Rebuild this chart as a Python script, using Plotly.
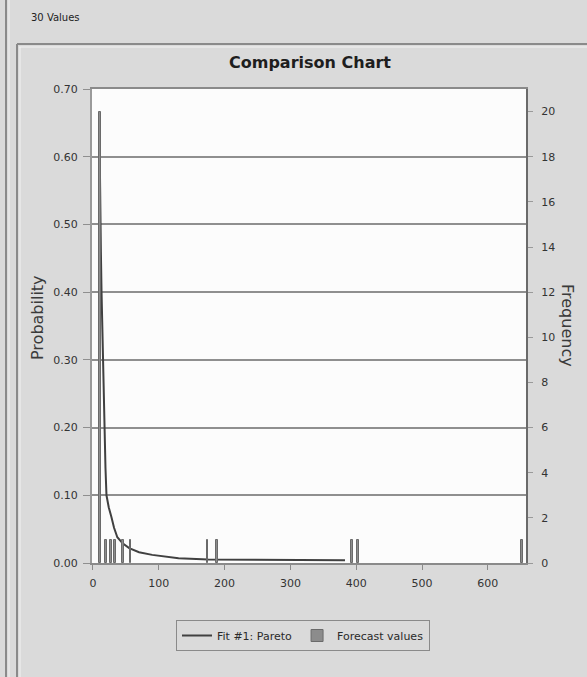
import plotly.graph_objects as go

# ---- data ----
curve_x = [9.5, 10, 11, 12, 13, 14.5, 16, 17.5, 19, 20.5, 24, 28, 32, 37, 45, 55, 70, 90, 130, 175, 250, 383]
curve_y = [0.665, 0.60, 0.52, 0.46, 0.40, 0.33, 0.25, 0.19, 0.14, 0.10, 0.082, 0.068, 0.052, 0.038,
           0.029, 0.022, 0.016, 0.012, 0.007, 0.005, 0.0045, 0.004]
bar_x = [10, 20.5, 28, 34, 45, 57, 174, 188, 393, 402, 652]
bar_freq = [20, 1, 1, 1, 1, 1, 1, 1, 1, 1, 1]
x_ticks = [0, 100, 200, 300, 400, 500, 600]
prob_ticks = [0.0, 0.1, 0.2, 0.3, 0.4, 0.5, 0.6, 0.7]
freq_ticks = [0, 2, 4, 6, 8, 10, 12, 14, 16, 18, 20]

W, H = 587, 677
L, R, T, B = 92, 61, 89, 114
PW, PH = W - L - R, H - T - B


def px(x):
    return (x - L) / PW


def py(y):
    return (H - B - y) / PH


FONT = "DejaVu Sans"
fig = go.Figure()

fig.add_trace(go.Bar(
    x=bar_x, y=bar_freq, yaxis="y2", width=3,
    marker=dict(color="#8c8c8c", line=dict(color="#6a6a6a", width=1)),
    name="Forecast values", showlegend=True,
))
fig.add_trace(go.Scatter(
    x=curve_x, y=curve_y, mode="lines", yaxis="y",
    line=dict(color="#404040", width=2),
    name="Fit #1: Pareto",
))

fig.update_layout(
    width=W, height=H,
    margin=dict(l=L, r=R, t=T, b=B),
    paper_bgcolor="#dadada",
    plot_bgcolor="#fcfcfc",
    font=dict(family=FONT, size=11, color="#333333"),
    bargap=0,
    title=dict(text="<b>Comparison Chart</b>", x=px(310), xref="paper", xanchor="center",
               y=1 - 62 / H, yanchor="middle", font=dict(family=FONT, size=16, color="#1e1e1e")),
    xaxis=dict(range=[-1.5, 658], tickvals=x_ticks, ticktext=[str(v) for v in x_ticks],
               showgrid=False, zeroline=False, showline=True, mirror=True,
               linecolor="#8a8a8a", linewidth=2, ticks="outside", ticklen=5, tickcolor="#8a8a8a",
               ticklabelstandoff=4, tickfont=dict(family=FONT, size=11, color="#333333")),
    yaxis=dict(range=[0, 0.7], tickvals=prob_ticks, ticktext=["%.2f" % v for v in prob_ticks],
               showgrid=True, gridcolor="#8f8f8f", gridwidth=2, zeroline=False,
               showline=True, linecolor="#9a9a9a", linewidth=2,
               ticks="outside", ticklen=7, tickcolor="#8f8f8f", ticklabelstandoff=3,
               tickfont=dict(family=FONT, size=11, color="#333333")),
    yaxis2=dict(range=[0, 21], tickvals=freq_ticks, ticktext=[str(v) for v in freq_ticks],
                overlaying="y", side="right", showgrid=False, zeroline=False,
                showline=True, linecolor="#6a6a6a", linewidth=2,
                ticks="outside", ticklen=5, tickcolor="#9a9a9a", ticklabelstandoff=6,
                tickfont=dict(family=FONT, size=11, color="#333333")),
    legend=dict(orientation="h", x=px(176), xanchor="left", y=py(620), yanchor="top",
                bgcolor="#dadada", bordercolor="#8a8a8a", borderwidth=1,
                font=dict(family=FONT, size=11, color="#2a2a2a"),
                traceorder="reversed"),
    showlegend=True,
)

annotations = [
    dict(text="Probability", x=px(37), y=py(318), xref="paper", yref="paper",
         xanchor="center", yanchor="middle",
         textangle=-90, showarrow=False, font=dict(family=FONT, size=16, color="#3a3a3a")),
    dict(text="Frequency", x=px(568), y=py(325), xref="paper", yref="paper",
         xanchor="center", yanchor="middle",
         textangle=90, showarrow=False, font=dict(family=FONT, size=16, color="#3a3a3a")),
    dict(text="30 Values", x=px(29), y=py(18), xref="paper", yref="paper",
         xanchor="left", yanchor="middle", showarrow=False,
         font=dict(family=FONT, size=10, color="#222222")),
]
fig.update_layout(annotations=annotations)

shapes = [
    # window left frame
    dict(type="line", xref="paper", yref="paper", x0=px(6), x1=px(6), y0=py(0), y1=py(H),
         line=dict(color="#8a8a8a", width=2), layer="above"),
    dict(type="line", xref="paper", yref="paper", x0=px(9), x1=px(9), y0=py(0), y1=py(H),
         line=dict(color="#f0f0f0", width=1), layer="above"),
    # panel top border
    dict(type="line", xref="paper", yref="paper", x0=px(17), x1=px(W), y0=py(44), y1=py(44),
         line=dict(color="#8a8a8a", width=2), layer="above"),
    dict(type="line", xref="paper", yref="paper", x0=px(19), x1=px(W), y0=py(47), y1=py(47),
         line=dict(color="#f2f2f2", width=1), layer="above"),
    # panel left border
    dict(type="line", xref="paper", yref="paper", x0=px(17), x1=px(17), y0=py(44), y1=py(H),
         line=dict(color="#8a8a8a", width=2), layer="above"),
    dict(type="line", xref="paper", yref="paper", x0=px(20), x1=px(20), y0=py(47), y1=py(H),
         line=dict(color="#f2f2f2", width=1), layer="above"),
]
fig.update_layout(shapes=shapes)

fig.write_html("out.html")
